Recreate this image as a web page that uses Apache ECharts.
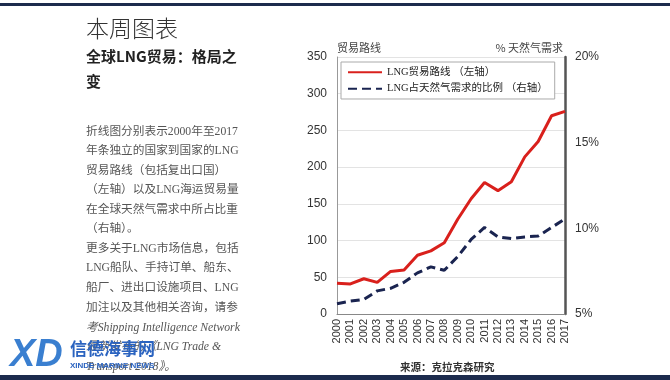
<!DOCTYPE html>
<html><head><meta charset="utf-8">
<script src="https://cdn.jsdelivr.net/npm/echarts@6/dist/echarts.min.js"></script>
<style>html,body{margin:0;padding:0;background:#fff}#c{width:670px;height:380px}</style>
</head><body><div id="c"></div>
<script>
const years = ['2000','2001','2002','2003','2004','2005','2006','2007','2008','2009','2010','2011','2012','2013','2014','2015','2016','2017'];
const tradeRoutes = [42,41,48,43,58,60,80,86,97,129,157,179,168,180,214,235,270,276];
const sharePct = [5.6,5.75,5.85,6.35,6.5,6.85,7.4,7.75,7.55,8.35,9.35,10.05,9.5,9.4,9.5,9.55,10.05,10.55];
const leftTicks = [0,50,100,150,200,250,300,350];
const rightTicks = [5,10,15,20];
const seriesNames = ['LNG贸易路线 （左轴）','LNG占天然气需求的比例 （右轴）'];
const bodyLines = [
 '折线图分别表示2000年至2017',
 '年条独立的国家到国家的LNG',
 '贸易路线（包括复出口国）',
 '（左轴）以及LNG海运贸易量',
 '在全球天然气需求中所占比重',
 '（右轴）。',
 '更多关于LNG市场信息，包括',
 'LNG船队、手持订单、船东、',
 '船厂、进出口设施项目、LNG',
 '加注以及其他相关咨询，请参',
 '考Shipping Intelligence Network',
 '最新发布的《LNG Trade &',
 'Transport 2018》。'
];
const serif = '"Liberation Serif","Noto Sans CJK SC",serif';
const sans = '"Liberation Sans",Arial,sans-serif';
const chart = echarts.init(document.getElementById('c'));
const lineYs = [131.5,150.8,170.5,190.3,209.8,229.2,248.6,268.2,288,307.6,327.5,347.2,366.5];
const graphics = [
 {type:'rect',shape:{x:0,y:3,width:670,height:3},style:{fill:'#1c2b4d'}},
 {type:'rect',shape:{x:0,y:375,width:670,height:5},style:{fill:'#1c2b4d'}},
 {type:'text',x:86,y:28,style:{text:'本周图表',font:'300 23px "Noto Sans CJK SC"',fill:'#333',verticalAlign:'middle'}},
 {type:'text',x:86,y:56,style:{text:'全球LNG贸易：格局之',font:'bold 15px "Noto Sans CJK SC"',fill:'#222',verticalAlign:'middle'}},
 {type:'text',x:86,y:81,style:{text:'变',font:'bold 15px "Noto Sans CJK SC"',fill:'#222',verticalAlign:'middle'}},
 {type:'text',x:400,y:367,style:{text:'来源：克拉克森研究',font:'bold 10.5px "Noto Sans CJK SC"',fill:'#333',verticalAlign:'middle'}},
 {type:'text',x:337,y:48,style:{text:'贸易路线',font:'11px "Noto Sans CJK SC"',fill:'#444',verticalAlign:'middle'}},
 {type:'text',x:563,y:48,style:{text:'% 天然气需求',font:'11px "Noto Sans CJK SC"',fill:'#444',align:'right',verticalAlign:'middle'}}
];
bodyLines.forEach((t,i)=>{
 const italic = i>=10 ? 'italic ' : '';
 graphics.push({type:'text',x:86,y:lineYs[i],style:{text:t,font:italic+'11.7px '+serif,fill:'#555',verticalAlign:'middle'}});
});
graphics.push(
 {type:'text',x:10,y:356,z:10,style:{text:'XD',font:'italic 900 38px "Liberation Sans"',fill:'#3a7fd0',verticalAlign:'middle'}},
 {type:'text',x:70,y:349,z:10,style:{text:'信德海事网',font:'bold 17px "Noto Sans CJK SC"',fill:'#2a63c0',verticalAlign:'middle'}},
 {type:'text',x:70,y:366,z:10,style:{text:'XINDE MARINE NEWS',font:'bold 8px "Liberation Sans"',fill:'#2a63c0',verticalAlign:'middle'}}
);
chart.setOption({
 animation:false,
 backgroundColor:'#fff',
 grid:{left:337,right:105,top:57,bottom:66,containLabel:false},
 legend:{
  orient:'vertical',left:341,top:62,itemWidth:34,itemHeight:10,itemGap:6,
  padding:[5,7,5,6],backgroundColor:'#fff',borderColor:'#aaa',borderWidth:1,borderRadius:0,
  itemStyle:{opacity:0},
  textStyle:{fontFamily:serif,fontSize:10.5,color:'#222'},
  data:seriesNames
 },
 xAxis:{type:'category',data:years,boundaryGap:false,
  axisLine:{lineStyle:{color:'#888',width:1}},axisTick:{show:false},
  axisLabel:{rotate:90,fontFamily:sans,fontSize:11,color:'#333',margin:5,interval:0},
  splitLine:{show:false}},
 yAxis:[
  {type:'value',min:0,max:350,interval:50,position:'left',
   axisLine:{show:true,lineStyle:{color:'#999',width:1}},axisTick:{show:false},
   axisLabel:{fontFamily:sans,fontSize:12,color:'#333',margin:10},
   splitLine:{lineStyle:{color:'#e3e3e3',width:1}}},
  {type:'value',min:5,max:20,interval:5,position:'right',
   axisLine:{show:true,lineStyle:{color:'#555',width:2.5}},axisTick:{show:false},
   axisLabel:{fontFamily:sans,fontSize:12,color:'#333',margin:10,formatter:v=>v+'%'},
   splitLine:{show:false}}
 ],
 series:[
  {name:seriesNames[0],type:'line',yAxisIndex:0,data:tradeRoutes,symbol:'none',
   lineStyle:{color:'#d9201c',width:3},itemStyle:{color:'#d9201c'}},
  {name:seriesNames[1],type:'line',yAxisIndex:1,data:sharePct,symbol:'none',
   lineStyle:{color:'#1a2450',width:3,type:[9,5]},itemStyle:{color:'#1a2450'}}
 ],
 graphic:graphics
});
</script></body></html>
